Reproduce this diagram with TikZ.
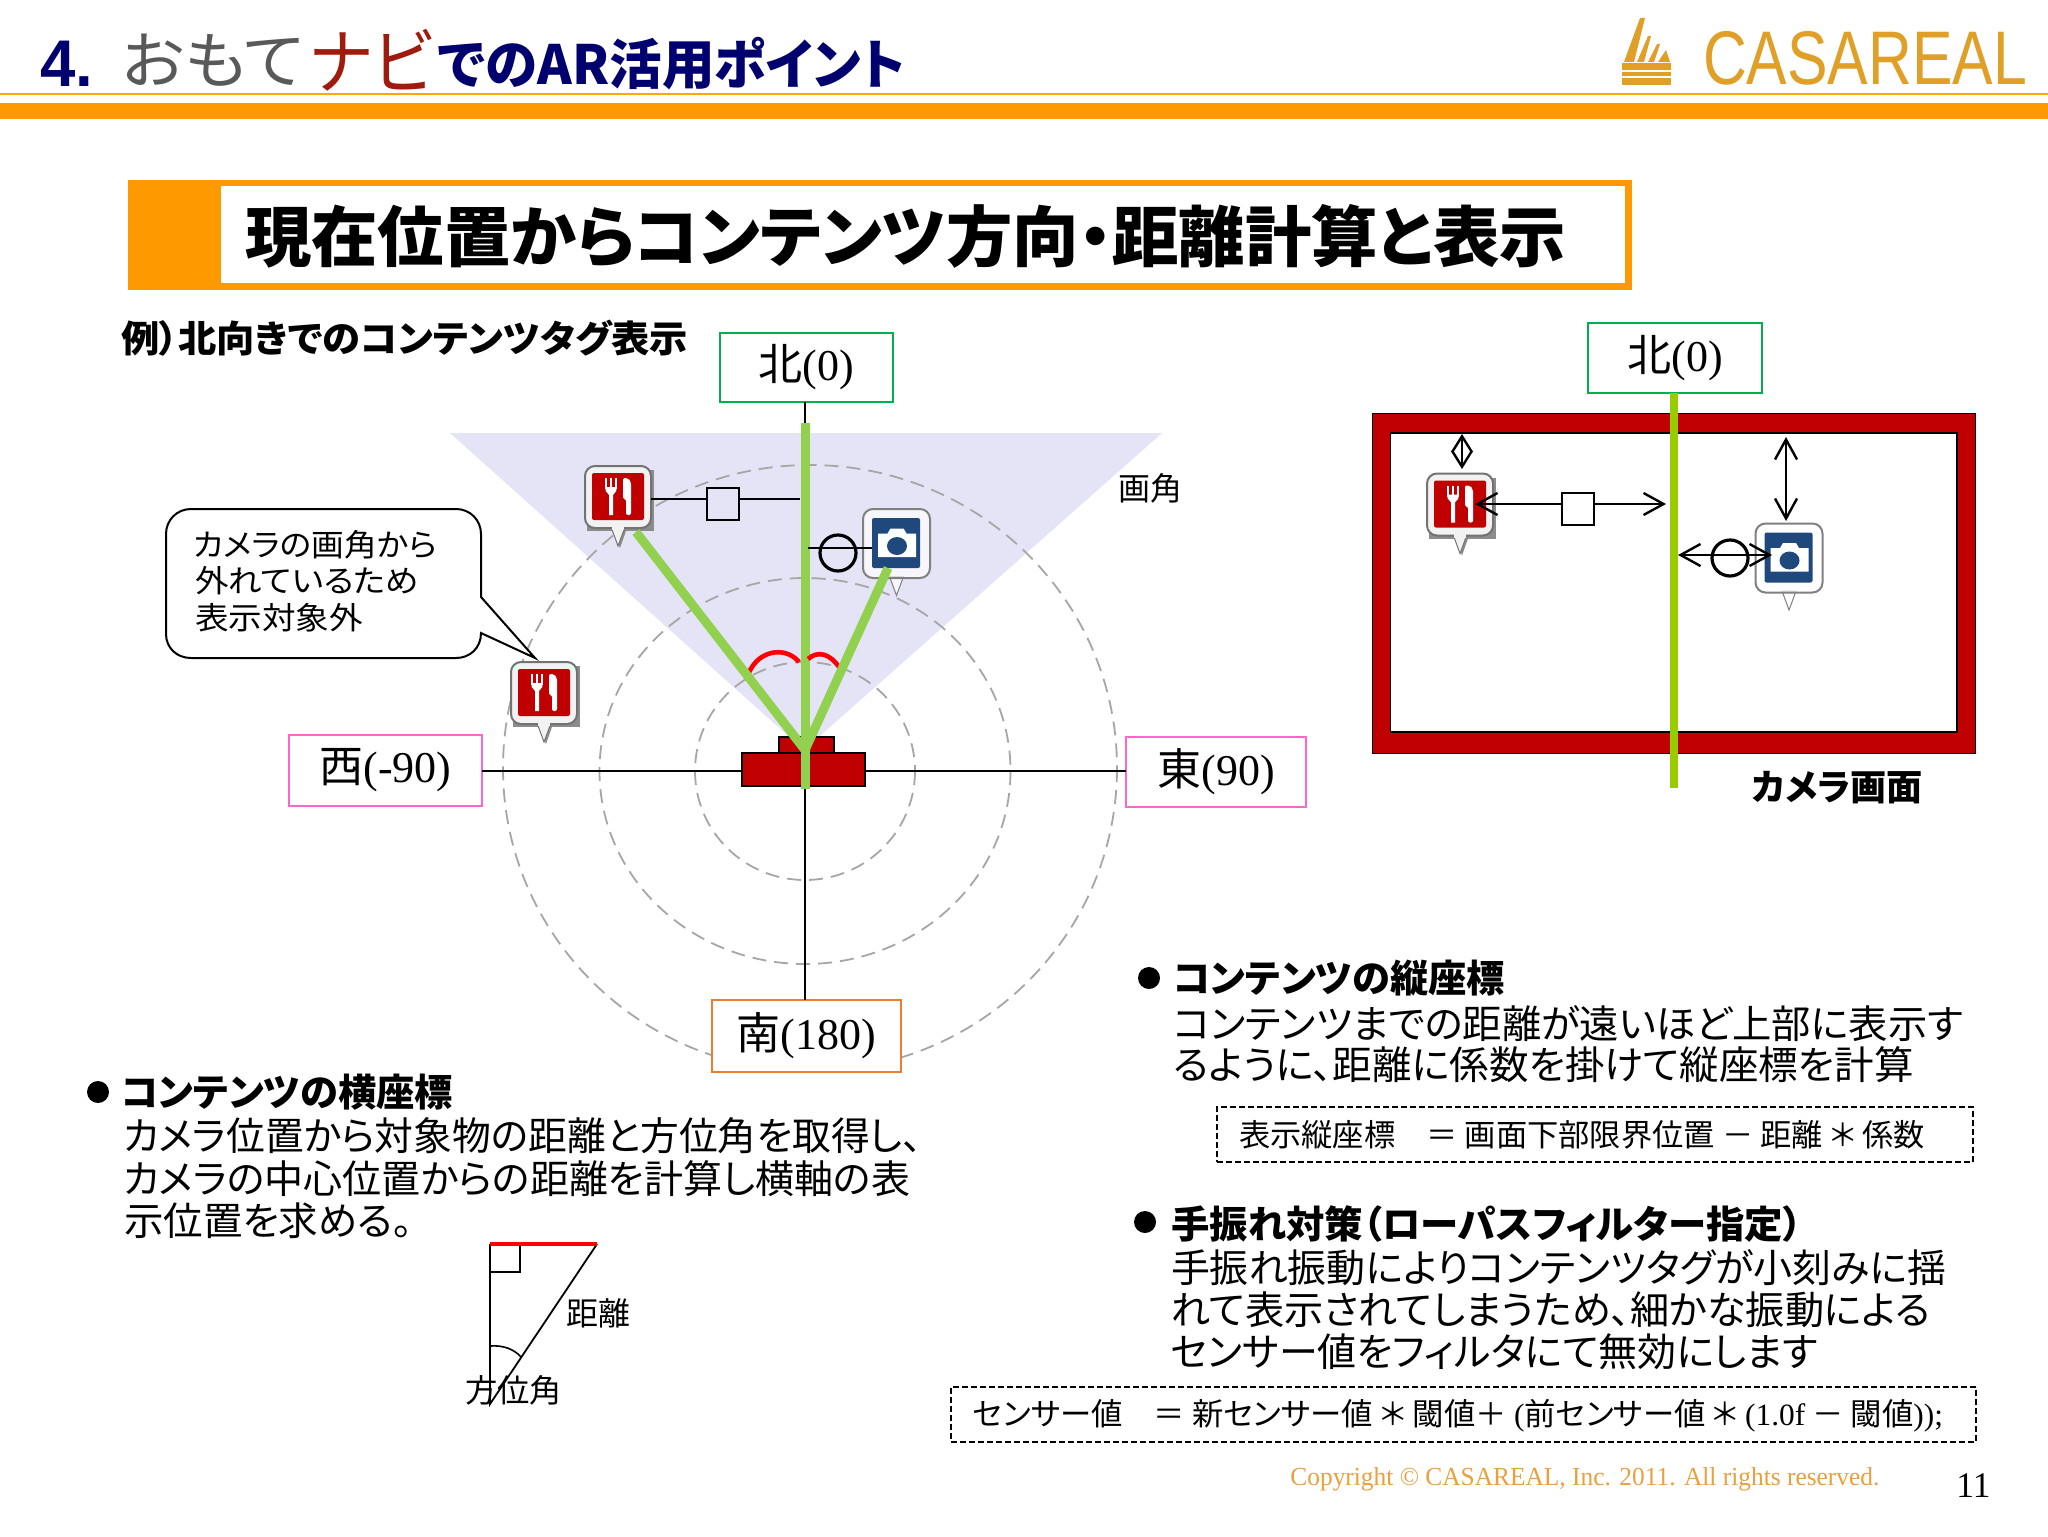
\documentclass[tikz,border=0pt]{standalone}
\usepackage{graphicx}
\usepackage{fontspec}
\setmainfont{Liberation Serif}
\newfontfamily\jp[RawFeature=+palt]{Noto Sans CJK JP}
\newfontfamily\ar{Liberation Sans}
\usetikzlibrary{arrows.meta}
\definecolor{hdorange}{HTML}{FF9900}
\definecolor{camred}{HTML}{C00000}
\definecolor{fan}{HTML}{E4E4F6}
\definecolor{leaf}{HTML}{92D050}
\definecolor{lime}{HTML}{99CC00}
\definecolor{navyt}{HTML}{00006E}
\definecolor{logo}{HTML}{E0A028}
\definecolor{copyc}{HTML}{E8A040}
\definecolor{capblue}{HTML}{1F497D}
\definecolor{nbox}{HTML}{00B050}
\definecolor{ewbox}{HTML}{FF66CC}
\definecolor{sbox}{HTML}{ED7D31}
% px = half a point; #1 font size in px, #2 width in px, #3 text
\newcommand{\fs}[1]{\fontsize{\dimexpr#1pt/2\relax}{\dimexpr#1pt/2\relax}\selectfont}
\newcommand{\fit}[3]{\resizebox{\dimexpr#2pt/2\relax}{\height}{\fs{#1}#3}}
\tikzset{
  txt/.style={anchor=west,inner sep=0pt,outer sep=0pt,font=\jp},
  cbox/.style={draw=#1,fill=white,line width=1pt,inner sep=0pt,outer sep=0pt,align=center},
  ringline/.style={draw=black!35,line width=.9pt,dash pattern=on 7pt off 4pt},
  axisline/.style={black,line width=1pt},
  ray/.style={leaf,line width=4.5pt},
  dbl/.style={black,line width=1.2pt,arrows={Straight Barb[length=10pt,width=11pt,line width=1.2pt]-Straight Barb[length=10pt,width=11pt,line width=1.2pt]}},
  dblshort/.style={black,line width=1.2pt,arrows={Straight Barb[length=8pt,width=10pt,line width=1.2pt]-Straight Barb[length=8pt,width=10pt,line width=1.2pt]}},
  dashbox/.style={draw=black,line width=.8pt,dash pattern=on 3pt off 1.5pt,fill=white,inner sep=0pt},
  bullet/.style={circle,fill=black,inner sep=0pt,minimum size=11pt},
  foodicon/.pic={
    \fill[black!45] (-31,-27) rectangle (36,34);
    \fill[black!45] (-5,34) -- (2,51) -- (8,34) -- cycle;
    \draw[black!55,fill=black!5,line width=.5pt] (-7,30) -- (0,49) -- (7,30) -- cycle;
    \draw[black!55,fill=black!5,line width=1pt,rounded corners=5pt] (-33,-31) rectangle (33,31);
    \fill[black!5] (-6,28) rectangle (6,33);
    \fill[camred,rounded corners=1pt] (-26,-24) rectangle (26,23);
    \draw[white,line width=.6pt] (-12,-19) -- (-12,-8) (-7,-19) -- (-7,-8) (-2,-19) -- (-2,-8);
    \fill[white] (-12.3,-10) -- (-1.7,-10) -- (-1.7,-6) -- (-5,-2) -- (-5,18) -- (-9,18) -- (-9,-2) -- (-12.3,-6) -- cycle;
    \fill[white,rounded corners=1pt] (5,-19) -- (10,-19) -- (13,-15) -- (13,18) -- (8,18) -- (8,2) -- (5,2) -- cycle;
  },
  camicon/.pic={
    \draw[black!50,fill=white,fill opacity=.7,line width=.5pt] (-7,33) -- (0,52) -- (7,33) -- cycle;
    \draw[black!50,fill=white,fill opacity=.7,line width=1pt,rounded corners=5pt] (-33.5,-34.5) rectangle (33.5,34.5);
    \fill[capblue,rounded corners=1pt] (-24.5,-25.5) rectangle (23.5,24.5);
    \fill[white] (-18.5,-10) -- (-9,-10) -- (-6,-15) -- (7,-15) -- (10,-10) -- (19.5,-10) -- (19.5,13.5) -- (-18.5,13.5) -- cycle;
    \fill[capblue] (0.5,2.5) ellipse[x radius=10,y radius=9];
  }
}
\begin{document}
\begin{tikzpicture}[x=0.5pt,y=-0.5pt]
\useasboundingbox (0,0) rectangle (2048,1536);
\fill[white] (0,0) rectangle (2048,1536);

% header
\node[txt,font=\ar\bfseries,text=navyt] (t4) at (40,64) {\fit{66}{53}{4.}};
\node[txt,text=black!65] (t1) at (122,60) {\fit{62}{182}{おもて}};
\node[txt,text={rgb,255:red,158;green,27;blue,14}] (t2) at (310,60) {\fit{72}{123}{ナビ}};
\node[txt,font=\jp\bfseries,text=navyt] (t3) at (438,64) {\fit{54}{467}{でのAR活用ポイント}};
\fill[hdorange!85!yellow] (0,93) rectangle (2048,95.5);
\fill[hdorange] (0,103) rectangle (2048,119);

% logo
\begin{scope}[logo]
\fill (1622,63) rectangle (1671,70);
\fill (1622,72) rectangle (1671,76);
\fill (1622,78) rectangle (1671,85);
\fill (1624,62) -- (1640,18) -- (1645,18) -- (1634,62) -- cycle;
\fill (1637,62) -- (1648,36) -- (1651,36) -- (1644,62) -- cycle;
\fill (1648,62) -- (1657,44) -- (1660,44) -- (1654,62) -- cycle;
\fill (1658,62) -- (1666,50) -- (1670,62) -- cycle;
\end{scope}
\node[txt,font=\ar,text=logo] (logotxt) at (1703,58) {\fit{76}{324}{CASAREAL}};

% heading
\fill[hdorange] (128,180) rectangle (1631.5,289.5);
\fill[white] (221,186) rectangle (1625,283);
\node[txt,font=\jp\bfseries] (head) at (245,236) {\fit{66}{1321}{現在位置からコンテンツ方向・距離計算と表示}};
\node[txt,font=\jp\bfseries] (ex) at (121,338) {\fit{37}{567}{例）北向きでのコンテンツタグ表示}};

% fan and rings
\fill[fan] (450,433) -- (1162,433) -- (804,750) -- cycle;
\draw[ringline] (805,771) ellipse[x radius=110,y radius=109];
\draw[ringline] (805,771) ellipse[x radius=205.5,y radius=193];
\draw[ringline] (810,768) ellipse[x radius=307,y radius=303];

% direction boxes
\node[cbox=nbox,minimum width=86.5pt,minimum height=34.5pt] (nb) at (806.5,367.5) {\fs{44}{\jp 北}(0)};
\node[cbox=ewbox,minimum width=96.5pt,minimum height=35.5pt] (wb) at (385.5,770.5) {\fs{44}{\jp 西}(-90)};
\node[cbox=ewbox,minimum width=90pt,minimum height=35pt] (eb) at (1216,772) {\fs{44}{\jp 東}(90)};
\node[cbox=sbox,minimum width=94.5pt,minimum height=36pt] (sb) at (806.5,1036) {\fs{44}{\jp 南}(180)};

% axes
\coordinate (apex) at (805,750);
\draw[axisline] (wb.east) -- (eb.west |- wb.east);
\draw[axisline] (nb.south -| apex) -- (sb.north -| apex);

% camera body
\draw[fill=camred,draw=black,line width=.6pt] (779,737) rectangle (834,753);
\draw[fill=camred,draw=black,line width=.6pt] (742,753) rectangle (865,786);

% rays
\coordinate (fray) at (636,532);
\coordinate (cray) at (888,568);
\draw[ray] (805,423) -- (805,789);

% angle arcs
\draw[red,line width=2.3pt] (747,678) .. controls (755,650) and (785,645) .. (799,662);
\draw[red,line width=2.3pt] (808,659) .. controls (818,650) and (830,654) .. (839,667);

% icons
\pic (food1) at (618,497) {foodicon};
\pic (cam1) at (896.5,543.5) {camicon};
\draw[ray] (apex) -- (fray);
\draw[ray] (apex) -- (cray);

% left marks
\coordinate (fa) at (651,499);
\coordinate (fb) at (800,499);
\coordinate (ca) at (808,548);
\coordinate (cb) at (872,548);
\draw[axisline,line width=1.1pt] (fa) -- (fb);
\node[draw=black,line width=1.3pt,fill=fan,minimum width=16pt,minimum height=16pt,inner sep=0pt] (sq1) at (723,504) {};
\draw[axisline,line width=1.1pt] (ca) -- (cb);
\node[draw=black,line width=1.6pt,circle,minimum size=18pt,inner sep=0pt] (ci1) at (838,553) {};

% callout
\draw[black,line width=1pt,fill=white]
  (191,509) -- (456,509) .. controls (470,509) and (481,520) .. (481,534) -- (481,597) -- (535,658) -- (481,633)
  .. controls (481,648) and (470,658) .. (456,658) -- (191,658) .. controls (177,658) and (166,648) .. (166,634)
  -- (166,534) .. controls (166,520) and (177,509) .. (191,509) -- cycle;
\node[txt] (call1) at (193,545) {\fit{31}{244}{カメラの画角から}};
\node[txt] (call2) at (195,581) {\fit{31}{224}{外れているため}};
\node[txt] (call3) at (195,618) {\fit{31}{168}{表示対象外}};
\pic (food2) at (544,693) {foodicon};
\node[txt] (aov) at (1118,488) {\fit{32}{64}{画角}};

% right panel
\draw[fill=camred,draw=black,line width=.5pt] (1372,413) rectangle (1975.5,753);
\draw[fill=white,draw=black,line width=.8pt] (1390.6,433) rectangle (1957,732);
\node[cbox=nbox,minimum width=87pt,minimum height=35pt] (nb2) at (1675,358) {\fs{44}{\jp 北}(0)};
\coordinate (gend) at (1673.5,788);
\draw[lime,line width=4pt] (nb2.south -| gend) -- (gend);
\pic (food3) at (1460,504.5) {foodicon};
\pic (cam2) at (1789,558) {camicon};
\coordinate (d1) at (1462,434);
\coordinate (d2) at (1462,469);
\draw[dblshort] (d1) -- (d2);
\coordinate (v1) at (1786,437);
\coordinate (v2) at (1786,521);
\draw[dbl] (v1) -- (v2);
\coordinate (h1) at (1475,504);
\coordinate (h2) at (1666,504);
\draw[dbl] (h1) -- (h2);
\node[draw=black,line width=1.3pt,fill=white,minimum width=16pt,minimum height=16pt,inner sep=0pt] (sq2) at (1578,509) {};
\coordinate (k1) at (1678,555);
\coordinate (k2) at (1772,555);
\draw[dbl] (k1) -- (k2);
\node[draw=black,line width=1.6pt,circle,minimum size=18pt,inner sep=0pt] (ci2) at (1730,558) {};
\node[txt,font=\jp\bfseries] (camlab) at (1752,788) {\fit{36}{171}{カメラ画面}};

% left bullets
\node[bullet] (b1) at (98,1092) {};
\node[txt,font=\jp\bfseries] (h1t) at (121,1092) {\fit{38}{332}{コンテンツの横座標}};
\node[txt] (l1) at (123,1136) {\fit{39}{799}{カメラ位置から対象物の距離と方位角を取得し、}};
\node[txt] (l2) at (123,1179) {\fit{39}{787}{カメラの中心位置からの距離を計算し横軸の表}};
\node[txt] (l3) at (124,1221) {\fit{39}{289}{示位置を求める。}};

% triangle
\coordinate (ta) at (490,1244);
\coordinate (tb) at (597,1244);
\coordinate (tc) at (490,1404);
\draw[black,line width=.9pt] (ta) -- (tc) -- (tb);
\draw[black,line width=.9pt] (490,1272) -| (520,1244);
\draw[black,line width=.8pt] (490,1346) .. controls (503,1345) and (514,1349) .. (521,1357);
\draw[red,line width=2pt] (ta) -- (tb);
\node[txt] (dist) at (566,1313) {\fit{32}{64}{距離}};
\node[txt] (azim) at (465,1390) {\fit{32}{97}{方位角}};

% right bullets
\node[bullet] (b2) at (1149,978) {};
\node[txt,font=\jp\bfseries] (h2t) at (1173,978) {\fit{38}{332}{コンテンツの縦座標}};
\node[txt] (r1) at (1173,1024) {\fit{39}{790}{コンテンツまでの距離が遠いほど上部に表示す}};
\node[txt] (r2) at (1173,1065) {\fit{39}{741}{るように、距離に係数を掛けて縦座標を計算}};
\node[dashbox,minimum width=378pt,minimum height=27.5pt] (box1) at (1595,1134.5) {};
\node[txt] (f1) at (1239,1135) {\fit{31}{686}{表示縦座標　＝ 画面下部限界位置 － 距離 ＊ 係数}};

\node[bullet] (b3) at (1145,1222) {};
\node[txt,font=\jp\bfseries] (h3t) at (1171,1224) {\fit{38}{631}{手振れ対策（ローパスフィルター指定）}};
\node[txt] (q1) at (1171,1268) {\fit{39}{775}{手振れ振動によりコンテンツタグが小刻みに揺}};
\node[txt] (q2) at (1171,1310) {\fit{39}{759}{れて表示されてしまうため、細かな振動による}};
\node[txt] (q3) at (1171,1352) {\fit{39}{647}{センサー値をフィルタにて無効にします}};
\node[dashbox,minimum width=512.5pt,minimum height=27.5pt] (box2) at (1463.5,1414.5) {};
\node[txt] (f2) at (973,1416) {\fit{31}{970}{センサー値　＝ 新センサー値 ＊ 閾値＋ {\rmfamily (}前センサー値 ＊ {\rmfamily (1.0f} － 閾値{\rmfamily ));}}};

% footer
\node[anchor=west,inner sep=0pt,text=copyc] (copy) at (1290,1479) {\fit{26}{589}{Copyright © CASAREAL, Inc. 2011. All rights reserved.}};
\node[anchor=west,inner sep=0pt] (pg) at (1956,1486) {\fit{36}{34}{11}};
\end{tikzpicture}
\end{document}
